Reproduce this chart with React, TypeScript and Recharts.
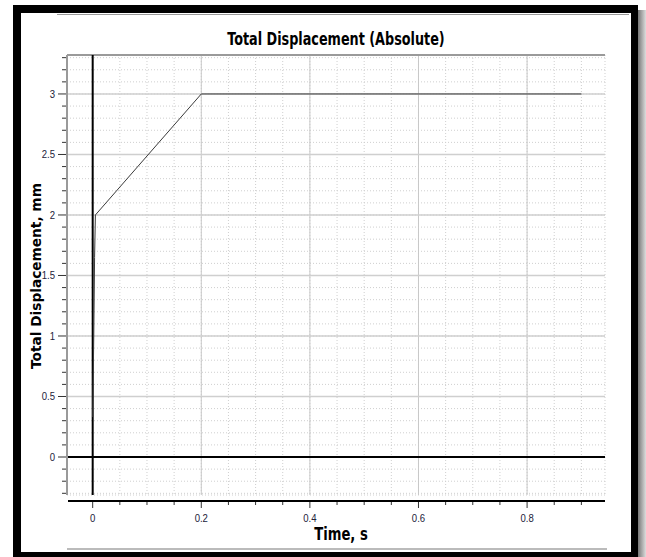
import React from 'react';
import { LineChart, Line, XAxis, YAxis, CartesianGrid, ReferenceLine } from 'recharts';

// time, s
const TIME = [0, 0.002, 0.0035, 0.005, 0.2, 0.9];
// total displacement, mm
const DISPLACEMENT = [0.33, 1.0, 1.65, 2.0, 3.0, 3.0];

const X_TICKS = [0, 0.05, 0.1, 0.15, 0.2, 0.25, 0.3, 0.35, 0.4, 0.45, 0.5, 0.55, 0.6, 0.65, 0.7, 0.75, 0.8, 0.85, 0.9];
const X_LABELED = [0, 0.2, 0.4, 0.6, 0.8];
const Y_TICKS = [
  -0.3, -0.2, -0.1, 0, 0.1, 0.2, 0.3, 0.4, 0.5, 0.6, 0.7, 0.8, 0.9, 1, 1.1, 1.2, 1.3, 1.4, 1.5, 1.6, 1.7, 1.8, 1.9,
  2, 2.1, 2.2, 2.3, 2.4, 2.5, 2.6, 2.7, 2.8, 2.9, 3, 3.1, 3.2, 3.3,
];
const Y_LABELED = [0, 0.5, 1, 1.5, 2, 2.5, 3];
const X_MAJOR_GRID = [0.2, 0.4, 0.6, 0.8];
const Y_MAJOR_GRID = [0.5, 1, 1.5, 2, 2.5, 3];

const X_DOMAIN: [number, number] = [-0.0473, 0.9435];
const Y_DOMAIN: [number, number] = [-0.314, 3.322];

const data = TIME.map((t, i) => ({ t, d: DISPLACEMENT[i] }));

const isLabeled = (list: number[], v: number) => list.some(l => Math.abs(l - v) < 1e-9);

const TICK_FONT = "'Liberation Sans', Arial, sans-serif";
const NARROW_FONT = "'DejaVu Sans Condensed', 'DejaVu Sans', sans-serif";

const XTick = (props: any) => {
  const { x, y, payload } = props;
  const major = isLabeled(X_LABELED, payload.value);
  return (
    <g>
      <line x1={x} x2={x} y1={y + 6} y2={y + (major ? 13 : 10)} stroke="#333" strokeWidth={1} />
      {major && (
        <text
          transform={`translate(${x},${y + 27}) scale(0.87,1)`}
          textAnchor="middle"
          fontSize={11}
          fontFamily={TICK_FONT}
          fill="#22223a"
        >
          {payload.value}
        </text>
      )}
    </g>
  );
};

const YTick = (props: any) => {
  const { x, y, payload } = props;
  const major = isLabeled(Y_LABELED, payload.value);
  return (
    <g>
      <line x1={x - (major ? 9 : 5)} x2={x - 1} y1={y} y2={y} stroke="#333" strokeWidth={1} />
      {major && (
        <text
          transform={`translate(${x - 12},${y + 4}) scale(0.87,1)`}
          textAnchor="end"
          fontSize={11}
          fontFamily={TICK_FONT}
          fill="#22223a"
        >
          {payload.value}
        </text>
      )}
    </g>
  );
};

export default function App() {
  return (
    <div style={{ position: 'absolute', left: 0, top: 0, width: 646, height: 557, background: '#fff', overflow: 'hidden' }}>
      {/* frame */}
      <div style={{ position: 'absolute', left: 638, top: 10, width: 8, height: 547, background: 'linear-gradient(to right, #777, #ddd)' }} />
      <div
        style={{
          position: 'absolute',
          left: 13,
          top: 5,
          width: 625,
          height: 552,
          boxSizing: 'border-box',
          borderStyle: 'solid',
          borderColor: '#000',
          borderWidth: '8px 7px 5px 8px',
        }}
      />
      <div style={{ position: 'absolute', left: 57, top: 14, width: 572, height: 1, background: '#999' }} />
      <div style={{ position: 'absolute', left: 67, top: 548, width: 540, height: 2, background: '#bbb' }} />

      <div style={{ position: 'absolute', left: 0, top: 0 }}>
        <LineChart width={646} height={557} data={data} margin={{ top: 55, right: 41, left: 0, bottom: 0 }}>
          <CartesianGrid stroke="#cfcfcf" strokeDasharray="1 2" />
          <XAxis
            dataKey="t"
            type="number"
            domain={X_DOMAIN}
            ticks={X_TICKS}
            allowDataOverflow
            height={62}
            axisLine={false}
            tickLine={false}
            tickSize={0}
            tickMargin={0}
            interval={0}
            tick={<XTick />}
          />
          <YAxis
            type="number"
            domain={Y_DOMAIN}
            ticks={Y_TICKS}
            allowDataOverflow
            width={67}
            axisLine={{ stroke: '#9a9a9a', strokeWidth: 2 }}
            tickLine={false}
            tickSize={0}
            tickMargin={0}
            interval={0}
            tick={<YTick />}
          />
          {X_MAJOR_GRID.map(v => (
            <ReferenceLine key={`x${v}`} x={v} stroke="#c8c8c8" strokeWidth={1} />
          ))}
          {Y_MAJOR_GRID.map(v => (
            <ReferenceLine key={`y${v}`} y={v} stroke="#cfcfcf" strokeWidth={1.5} />
          ))}
          <ReferenceLine y={Y_DOMAIN[1]} stroke="#9a9a9a" strokeWidth={2} />
          <ReferenceLine x={0} stroke="#000" strokeWidth={2} />
          <ReferenceLine y={0} stroke="#000" strokeWidth={2} />
          <Line dataKey="d" stroke="#3a3a3a" strokeWidth={1} dot={false} isAnimationActive={false} />
        </LineChart>
      </div>

      {/* x axis line */}
      <div style={{ position: 'absolute', left: 68, top: 500, width: 537, height: 2, background: '#000' }} />

      <div
        style={{
          position: 'absolute',
          left: 186,
          top: 28,
          width: 300,
          textAlign: 'center',
          fontFamily: NARROW_FONT,
          fontWeight: 'bold',
          fontSize: 18,
          color: '#000',
          lineHeight: '22px',
          transform: 'scaleX(0.79)',
          transformOrigin: '150px 50%',
        }}
      >
        Total Displacement (Absolute)
      </div>
      <div
        style={{
          position: 'absolute',
          left: 291,
          top: 524,
          width: 100,
          textAlign: 'center',
          fontFamily: NARROW_FONT,
          fontWeight: 'bold',
          fontSize: 17,
          color: '#000',
          lineHeight: '20px',
          transform: 'scaleX(0.86)',
          transformOrigin: '50px 50%',
        }}
      >
        Time, s
      </div>
      <div
        style={{
          position: 'absolute',
          left: 36 - 150,
          top: 276 - 10,
          width: 300,
          height: 20,
          textAlign: 'center',
          transform: 'rotate(-90deg)',
          fontFamily: "'DejaVu Sans', sans-serif",
          fontWeight: 'bold',
          fontSize: 13.7,
          color: '#000',
          lineHeight: '20px',
        }}
      >
        Total Displacement, mm
      </div>
    </div>
  );
}
